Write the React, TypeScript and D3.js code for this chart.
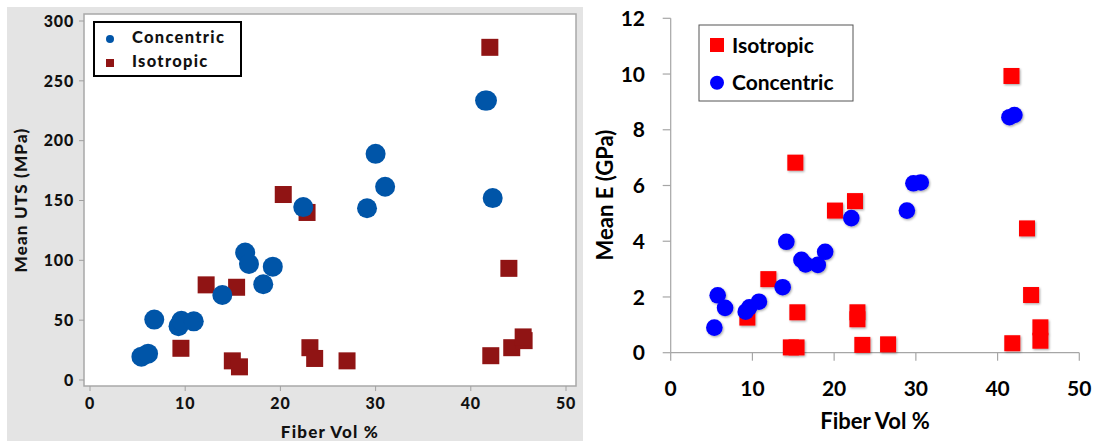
import React from 'react';
import * as d3 from 'd3';

// left panel: UTS (MPa) vs fiber volume %
const utsConcentric: [number, number][] = [
  [5.4, 19.5], [6.1, 22], [6.75, 50.5], [9.3, 45], [9.6, 49.5], [10.9, 49],
  [13.9, 71], [16.3, 106.5], [16.7, 97], [18.2, 80], [19.2, 94.7],
  [22.4, 144.5], [29.1, 143.5], [30.0, 189], [31.0, 161.5],
  [41.5, 233.5], [41.7, 233.5], [42.3, 152],
];
const utsIsotropic: [number, number][] = [
  [9.55, 26.5], [12.2, 79.5], [15.4, 77.5], [14.95, 16], [15.7, 11],
  [20.3, 155], [22.8, 140], [23.1, 27], [23.6, 18], [27.0, 16],
  [42.0, 278], [42.1, 20.3], [44.0, 93.3], [44.3, 27], [45.6, 32.9], [45.5, 36],
];

// right panel: E (GPa) vs fiber volume %
const eIsotropic: [number, number][] = [
  [9.38, 1.26], [11.95, 2.64], [15.25, 6.82], [15.5, 1.45], [14.7, 0.19], [15.4, 0.19],
  [20.1, 5.1], [22.55, 5.44], [22.85, 1.45], [22.85, 1.2], [23.45, 0.28], [26.6, 0.3],
  [41.7, 9.93], [41.8, 0.34], [43.6, 4.46], [44.1, 2.07], [45.24, 0.91], [45.24, 0.43],
];
const eConcentric: [number, number][] = [
  [5.34, 0.9], [5.75, 2.06], [6.65, 1.61], [9.18, 1.47], [9.62, 1.63], [10.8, 1.83],
  [13.7, 2.35], [14.15, 3.98], [16.0, 3.33], [16.5, 3.17], [18.0, 3.15], [18.9, 3.62],
  [22.1, 4.83], [28.9, 5.1], [29.7, 6.08], [30.6, 6.11], [41.45, 8.45], [42.06, 8.53],
];

const xTicks = [0, 10, 20, 30, 40, 50];
const utsTicks = [0, 50, 100, 150, 200, 250, 300];
const eTicks = [0, 2, 4, 6, 8, 10, 12];

const LEFT_FONT = 'Lato, "Open Sans", sans-serif';
const RIGHT_FONT = 'Lato, "Open Sans", sans-serif';

function LeftPanel()
{
  const x = d3.scaleLinear().domain([0, 50]).range([90, 566]);
  const y = d3.scaleLinear().domain([0, 300]).range([380, 21]);
  const plot = { left: 84, top: 14, right: 576, bottom: 386 };
  const blue = '#0055a8';
  const red = '#901414';
  const sq = 17;

  return (
    <g fontFamily={LEFT_FONT} fontWeight={900} fill="#111">
      <rect x={7} y={7} width={576} height={434} fill="#e4e4e4" />
      <rect x={plot.left} y={plot.top} width={plot.right - plot.left} height={plot.bottom - plot.top}
        fill="#fff" stroke="#a8a8a8" strokeWidth={1.5} />
      {utsTicks.map((t) => (
        <g key={'ly' + t}>
          <line x1={79} x2={plot.left} y1={y(t)} y2={y(t)} stroke="#a0a0a0" />
          <text x={74} y={y(t)} dy="0.36em" textAnchor="end" fontSize={16} letterSpacing={0.8}>{t}</text>
        </g>
      ))}
      {xTicks.map((t) => (
        <g key={'lx' + t}>
          <line x1={x(t)} x2={x(t)} y1={plot.bottom} y2={plot.bottom + 5} stroke="#a0a0a0" />
          <text x={x(t)} y={403} dy="0.36em" textAnchor="middle" fontSize={16} letterSpacing={0.8}>{t}</text>
        </g>
      ))}
      <text x={330} y={432} dy="0.36em" textAnchor="middle" fontSize={17} letterSpacing={1.2}>Fiber Vol %</text>
      <text transform="translate(21,200) rotate(-90)" textAnchor="middle" dy="0.36em" fontSize={17} letterSpacing={1.2}>
        Mean UTS (MPa)
      </text>

      {utsIsotropic.map((d, i) => (
        <rect key={'ui' + i} x={x(d[0]) - sq / 2} y={y(d[1]) - sq / 2} width={sq} height={sq} fill={red} />
      ))}
      {utsConcentric.map((d, i) => (
        <circle key={'uc' + i} cx={x(d[0])} cy={y(d[1])} r={10} fill={blue} />
      ))}

      <rect x={94} y={22} width={147} height={54} fill="#fff" stroke="#000" strokeWidth={2} />
      <circle cx={110} cy={39} r={4} fill={blue} />
      <text x={132} y={37} dy="0.36em" fontSize={16.5} letterSpacing={1.3}>Concentric</text>
      <rect x={106} y={59} width={8} height={8} fill={red} />
      <text x={132} y={61} dy="0.36em" fontSize={16.5} letterSpacing={1.3}>Isotropic</text>
    </g>
  );
}

function RightPanel()
{
  const x = d3.scaleLinear().domain([0, 50]).range([670.7, 1079.3]);
  const y = d3.scaleLinear().domain([0, 12]).range([352.7, 18.3]);
  const red = '#ff0000';
  const blue = '#0000ff';
  const sq = 16;

  return (
    <g fontFamily={RIGHT_FONT} fontWeight={700} fill="#000">
      <defs>
        <filter id="shadow" x="-30%" y="-30%" width="160%" height="160%">
          <feDropShadow dx={1} dy={1.2} stdDeviation={0.8} floodColor="#000" floodOpacity={0.35} />
        </filter>
      </defs>
      <line x1={x(0)} x2={x(0)} y1={y(12)} y2={y(0)} stroke="#a6a6a6" strokeWidth={1.2} />
      <line x1={x(0)} x2={x(50)} y1={y(0)} y2={y(0)} stroke="#a6a6a6" strokeWidth={1.2} />
      {eTicks.map((t) => (
        <g key={'ry' + t}>
          <line x1={x(0) - 8} x2={x(0)} y1={y(t)} y2={y(t)} stroke="#a6a6a6" strokeWidth={1.2} />
          <text x={645} y={y(t)} dy="0.36em" textAnchor="end" fontSize={21}>{t}</text>
        </g>
      ))}
      {xTicks.map((t) => (
        <g key={'rx' + t}>
          <line x1={x(t)} x2={x(t)} y1={y(0)} y2={y(0) + 8} stroke="#a6a6a6" strokeWidth={1.2} />
          <text x={x(t)} y={388} dy="0.36em" textAnchor="middle" fontSize={21}>{t}</text>
        </g>
      ))}
      <text x={875} y={421} dy="0.36em" textAnchor="middle" fontSize={22}>Fiber Vol %</text>
      <text transform="translate(605,195) rotate(-90)" textAnchor="middle" dy="0.36em" fontSize={22}>
        Mean E (GPa)
      </text>

      <g filter="url(#shadow)">
        {eIsotropic.map((d, i) => (
          <rect key={'ei' + i} x={x(d[0]) - sq / 2} y={y(d[1]) - sq / 2} width={sq} height={sq} fill={red} />
        ))}
        {eConcentric.map((d, i) => (
          <circle key={'ec' + i} cx={x(d[0])} cy={y(d[1])} r={8.3} fill={blue} />
        ))}
      </g>

      <rect x={699} y={25} width={154} height={76} fill="#fff" stroke="#555" strokeWidth={1} />
      <rect x={710} y={38} width={14} height={14} fill={red} />
      <text x={732} y={45} dy="0.36em" fontSize={21}>Isotropic</text>
      <circle cx={717} cy={82.7} r={7} fill={blue} />
      <text x={732} y={82.7} dy="0.36em" fontSize={21}>Concentric</text>
    </g>
  );
}

export default function App()
{
  return (
    <svg width={1098} height={441} style={{ position: 'absolute', left: 0, top: 0, background: '#fff' }}>
      <LeftPanel />
      <RightPanel />
    </svg>
  );
}
